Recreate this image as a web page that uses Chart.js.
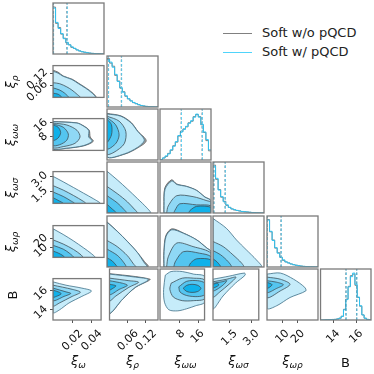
<!DOCTYPE html>
<html><head><meta charset="utf-8">
<script src="https://cdn.jsdelivr.net/npm/chart.js@4.4.1/dist/chart.umd.min.js"></script>
<style>
html,body{margin:0;padding:0;background:#fff;}
body{width:374px;height:374px;overflow:hidden;position:relative;font-family:'DejaVu Sans',sans-serif;}
canvas{position:absolute;}
.lab{position:absolute;font-size:13px;color:#111;white-space:nowrap;transform:translate(-50%,-50%);line-height:1;}
.lab i{font-style:italic;}
.lab sub{font-size:9px;font-style:italic;vertical-align:-3px;}
.ylab{transform:translate(-50%,-50%) rotate(-90deg);}
.leg{position:absolute;font-size:13px;color:#222;white-space:nowrap;line-height:1;}
.legline{position:absolute;height:1px;width:29px;}
</style></head><body>
<script>
// ---------- data ----------
const ranges = [[0,0.05],[0,0.16],[0,18.5],[0.35,3.5],[0,33],[12.9,17.3]];
const tickValues = [[0.02,0.04],[0.06,0.12],[8,16],[1.5,3.0],[10,20],[14,16]];
const tickLabels = [['0.02','0.04'],['0.06','0.12'],['8','16'],['1.5','3.0'],['10','20'],['14','16']];
const symbols = ['ξ','ξ','ξ','ξ','ξ','B'];
const subscripts = ['ω','ρ','ωω','ωσ','ωρ',''];
const seriesNames = ['Soft w/o pQCD','Soft w/ pQCD'];

// 1D marginal histograms (relative heights), "w/o pQCD" and "w/ pQCD"
const hWo0 = [0.92,0.6,0.52,0.39,0.31,0.22,0.18,0.13,0.11,0.08,0.06,0.044,0.034,0.026,0.017,0.012,0.008,0.005,0.003,0.002];
const hW0  = [0.9,0.62,0.5,0.4,0.3,0.23,0.18,0.14,0.11,0.08,0.06,0.045,0.035,0.025,0.018,0.012,0.008,0.005,0.003,0.002];
const hWo1 = [0.95,0.86,0.8,0.62,0.51,0.37,0.3,0.21,0.16,0.12,0.085,0.065,0.045,0.03,0.02,0.012,0.007,0.004,0.002,0.001];
const hW1  = [0.93,0.88,0.78,0.64,0.5,0.38,0.29,0.22,0.16,0.12,0.09,0.065,0.045,0.03,0.02,0.012,0.007,0.004,0.002,0.001];
const hWo2 = [0.01,0.04,0.07,0.13,0.19,0.28,0.35,0.47,0.56,0.61,0.65,0.73,0.76,0.85,0.89,0.85,0.69,0.54,0.38,0.18];
const hW2  = [0.01,0.04,0.08,0.12,0.2,0.27,0.36,0.48,0.55,0.6,0.66,0.72,0.77,0.84,0.9,0.84,0.7,0.55,0.4,0.2];
const hWo3 = [0.94,0.66,0.46,0.31,0.23,0.15,0.11,0.08,0.06,0.05,0.04,0.03,0.024,0.02,0.014,0.01,0.007,0.004,0.002,0.001];
const hW3  = [0.92,0.68,0.45,0.32,0.22,0.16,0.11,0.08,0.065,0.05,0.04,0.03,0.025,0.02,0.015,0.01,0.007,0.004,0.002,0.001];
const hWo4 = [0.93,0.69,0.53,0.37,0.28,0.19,0.13,0.1,0.08,0.06,0.045,0.034,0.025,0.018,0.012,0.008,0.005,0.003,0.002,0.001];
const hW4  = [0.92,0.7,0.52,0.38,0.27,0.19,0.14,0.1,0.08,0.06,0.045,0.035,0.025,0.018,0.012,0.008,0.005,0.003,0.002,0.001];
const hWo5 = [0,0,0.003,0.005,0.008,0.011,0.013,0.022,0.036,0.075,0.21,0.41,0.66,0.87,0.9,0.68,0.44,0.27,0.1,0.035,0.012,0.005];
const hW5  = [0,0,0.003,0.005,0.008,0.01,0.012,0.02,0.035,0.07,0.2,0.4,0.65,0.85,0.92,0.7,0.45,0.28,0.1,0.035,0.012,0.005];

// quantile markers (dashed lines)
const qWo = [[0.0004,0.0137],[0.0048,0.045],[7.7,15.3],[0.4,1.1],[0.3,9.1],[15.12,16.05]];
const qW  = [[0.0006,0.014],[0.005,0.046],[7.8,15.4],[0.41,1.11],[0.33,9.2],[15.14,16.07]];

// 2D credible contours: [w/o outer (or null), w/ level1 (outer) .. level4 (inner)]
const cont10 = [
  [[0,.137],[.005,.127],[.01,.108],[.019,.091],[.0255,.07],[.032,.049],[.039,.022],[.042,0],[0,0]],
  [[0,.131],[.005,.122],[.01,.106],[.0185,.09],[.025,.069],[.0315,.048],[.0385,.021],[.0415,0],[0,0]],
  [[0,.074],[.0065,.069],[.0135,.053],[.0185,.037],[.0235,.016],[.0265,0],[0,0]],
  [[0,.048],[.0065,.037],[.0115,.021],[.015,0],[0,0]],
  [[0,.021],[.005,.016],[.0085,0],[0,0]]];
const cont20 = [
  [[0,16.8],[0.0235,16.0],[0.0305,14.1],[0.0355,11.7],[0.0365,7.8],[0.0395,5.3],[0.0305,2.7],[0.0135,1.2],[0,0.8]],
  [[0,16.7],[0.0235,15.9],[0.03,14.1],[0.035,11.7],[0.035,7.8],[0.0385,5.4],[0.03,2.8],[0.0135,1.3],[0,0.9]],
  [[0,15.9],[0.0135,14.8],[0.0235,11.7],[0.0265,7.8],[0.0215,4.1],[0.01,2.2],[0,1.85]],
  [[0,15.4],[0.01,13.5],[0.015,9.6],[0.0135,5.9],[0.0065,3.3],[0,3.0]],
  [[0,14.8],[0.005,13.5],[0.0075,10.4],[0.005,7.2],[0,5.9]]];
const cont21 = [
  [[0,16.9],[.044,16.0],[.076,13.6],[.097,10.4],[.123,7.0],[.098,4.5],[.055,2.1],[0,1.2]],
  [[0,16.7],[.043,15.9],[.075,13.5],[.096,10.4],[.117,7.2],[.096,4.6],[.054,2.2],[0,1.3]],
  [[0,15.9],[.038,14.1],[.059,10.4],[.054,5.9],[.022,2.8],[0,2.2]],
  [[0,15.4],[.027,12.8],[.038,9.1],[.027,5.9],[0,4.1]],
  [[0,14.8],[.014,12.8],[.014,9.1],[0,6.5]]];
const cont30 = [null,
  [[0,3.03],[.01,2.49],[.02,1.93],[.03,1.36],[.04,.79],[.046,.35],[0,.35]],
  [[0,2.11],[.01,1.67],[.02,1.14],[.03,.54],[.032,.35],[0,.35]],
  [[0,1.48],[.01,1.04],[.0175,.6],[.021,.35],[0,.35]],
  [[0,.92],[.006,.6],[.01,.35],[0,.35]]];
const cont31 = [null,
  [[0,2.93],[.032,2.4],[.064,1.83],[.096,1.23],[.125,.67],[.136,.35],[0,.35]],
  [[0,1.99],[.032,1.55],[.064,1.04],[.088,.54],[.096,.35],[0,.35]],
  [[0,1.42],[.032,.98],[.053,.57],[.061,.35],[0,.35]],
  [[0,.89],[.016,.6],[.029,.35],[0,.35]]];
const cont32 = [
  [[1.4,0.35],[1.4,0.8],[1.75,1.9],[4.2,2.4],[6.1,2.14],[9.6,2.0],[13.3,1.75],[16.3,1.34],[18.5,1.12],[18.5,0.35]],
  [[1.5,0.35],[1.5,0.8],[1.85,1.83],[4.3,2.33],[6.1,2.11],[9.6,1.99],[13.3,1.74],[16.3,1.33],[18.5,1.11],[18.5,0.35]],
  [[2.4,0.35],[3.0,0.79],[6.1,1.42],[12.0,1.36],[17.0,1.11],[18.5,1.01],[18.5,0.35]],
  [[5.0,0.35],[5.4,0.51],[7.2,0.92],[13.3,0.85],[18.5,0.79],[18.5,0.35]],
  [[10.4,0.35],[10.9,0.51],[13.3,0.76],[18.5,0.70],[18.5,0.35]]];
const cont40 = [null,
  [[0,29.7],[.01,23.8],[.02,17.2],[.03,9.9],[.0375,4.0],[.041,0],[0,0]],
  [[0,18.2],[.01,13.9],[.02,8.3],[.0275,2.6],[.029,0],[0,0]],
  [[0,12.5],[.01,8.6],[.0165,4.0],[.02,0],[0,0]],
  [[0,6.6],[.005,4.6],[.01,1.65],[.011,0],[0,0]]];
const cont41 = [
  [[0,29.2],[.032,23.2],[.064,16.6],[.096,9.3],[.118,3.4],[.13,0.6],[.127,0],[0,0]],
  [[0,29],[.032,23.1],[.064,16.5],[.096,9.2],[.115,3.3],[.125,0],[0,0]],
  [[0,17.2],[.032,13.2],[.064,7.3],[.083,2.0],[.09,0],[0,0]],
  [[0,11.6],[.032,7.6],[.051,3.3],[.059,0],[0,0]],
  [[0,5.9],[.016,4.0],[.029,1.0],[.032,0],[0,0]]];
const cont42 = [
  [[1.4,0],[1.4,9.9],[2.1,20.3],[4.3,24.7],[8.5,22.0],[13.3,17.6],[17.0,12.3],[18.5,10.0],[18.5,0]],
  [[1.5,0],[1.5,9.9],[2.2,19.8],[4.3,24.1],[8.5,21.8],[13.3,17.5],[17.0,12.2],[18.5,9.9],[18.5,0]],
  [[2.4,0],[3.0,6.6],[6.1,15.5],[12.0,13.2],[18.5,8.9],[18.5,0]],
  [[5.0,0],[5.5,3.3],[8.5,9.9],[14.4,8.9],[18.5,6.6],[18.5,0]],
  [[10.4,0],[11.1,2.6],[13.3,5.3],[18.5,4.6],[18.5,0]]];
const cont43 = [null,
  [[.35,31.4],[1.17,25.1],[1.8,17.5],[2.4,11.2],[3.03,4.6],[3.34,0],[.35,0]],
  [[.35,16.5],[.98,13.2],[1.58,7.9],[2.11,2.6],[2.24,0],[.35,0]],
  [[.35,10.6],[.82,7.9],[1.3,3.3],[1.48,0],[.35,0]],
  [[.35,5.3],[.6,3.3],[.82,0],[.35,0]]];
const cont50 = [null,
  [[0,16.95],[.0135,16.6],[.03,16.29],[.04,15.98],[.03,15.41],[.0165,14.7],[.0065,13.96],[0,13.69]],
  [[0,16.6],[.02,16.16],[.0285,15.85],[.02,15.41],[.0065,14.7],[0,14.4]],
  [[0,16.29],[.0135,15.89],[.0185,15.72],[.0115,15.41],[0,14.97]],
  [[0,16.07],[.0065,15.85],[.0085,15.67],[.0035,15.41],[0,15.32]]];
const cont51 = [
  [[0,16.9],[.085,16.65],[.134,16.42],[.13,16.3],[.085,15.7],[.043,14.68],[0,13.5]],
  [[0,16.86],[.085,16.6],[.128,16.38],[.085,15.72],[.043,14.7],[0,13.52]],
  [[0,16.51],[.064,16.29],[.096,16.16],[.064,15.72],[.021,14.97],[0,14.57]],
  [[0,16.29],[.043,16.07],[.059,15.89],[.032,15.54],[0,15.1]],
  [[0,15.98],[.021,15.85],[.011,15.63],[0,15.5]]];
const cont52 = [null,
  [[2.2,16.77],[4.6,17.08],[9.25,17.08],[13.9,16.86],[18.5,16.64],[18.5,14.44],[14.8,14.13],[11.1,13.87],[7.4,13.69],[3.7,13.78],[1.85,14.44],[1.5,15.54]],
  [[4.6,16.07],[9.25,16.51],[13.9,16.51],[18.5,16.33],[18.5,14.75],[13.9,14.57],[9.25,14.57],[5.55,14.88],[4.1,15.54]],
  [[7.8,15.76],[11.1,16.24],[15.7,16.29],[18.5,16.07],[18.5,15.1],[15.7,14.92],[11.1,15.01],[8.3,15.32]],
  [[9.6,15.63],[11.1,15.89],[13.3,15.98],[15.7,15.89],[17.0,15.63],[15.7,15.36],[13.3,15.28],[11.1,15.36]]];
const cont53 = [null,
  [[.35,16.42],[1.45,16.68],[2.52,16.95],[2.56,16.77],[1.89,16.07],[1.04,14.97],[.35,13.87]],
  [[.35,16.2],[1.3,16.42],[1.93,16.6],[1.45,15.98],[.82,15.32],[.35,14.88]],
  [[.35,16.07],[.98,16.2],[1.3,16.29],[.98,15.85],[.35,15.41]],
  [[.35,15.98],[.67,16.07],[.73,15.89],[.35,15.67]]];
const cont54 = [null,
  [[0,16.86],[8.6,16.95],[17.2,16.42],[24.4,15.72],[25.1,15.41],[14.9,14.84],[6.3,14.13],[0,13.91]],
  [[0,16.6],[8.6,16.42],[14.9,15.98],[8.6,15.41],[0,14.84]],
  [[0,16.29],[6.3,16.16],[10.6,15.94],[6.3,15.63],[0,15.28]],
  [[0,16.16],[3.3,15.94],[0,15.63]]];

// ---------- assembly ----------
const histWo = [hWo0,hWo1,hWo2,hWo3,hWo4,hWo5];
const histW = [hW0,hW1,hW2,hW3,hW4,hW5];
const contours = {'1-0':cont10,'2-0':cont20,'2-1':cont21,'3-0':cont30,'3-1':cont31,'3-2':cont32,
  '4-0':cont40,'4-1':cont41,'4-2':cont42,'4-3':cont43,'5-0':cont50,'5-1':cont51,'5-2':cont52,'5-3':cont53,'5-4':cont54};

const woColor = '#808080';
const wColor = '#2ec3f2';
const levelFills = ['#c6ecfa','#8fd8f5','#54c5f0','#0fb1ea'];
const edgeColor = '#3d4f58';

const colLeft = [53,107,160,213,267,320];
const rowTop = [3,56,109,162,216,269];
const SIZE = 51;
const XAX = 46, YAX = 46;
const xLabelOffset = [9,9,4,6,5,5];
const yLabelOffset = [0,-3,-2,-3,-2,-2];

const framePlugin = {id:'frame', afterDraw(chart){
  const {ctx, chartArea:a} = chart;
  ctx.save(); ctx.strokeStyle = '#7a7a7a'; ctx.lineWidth = 1.3;
  ctx.strokeRect(a.left, a.top, a.right-a.left, a.bottom-a.top); ctx.restore();
}};

function scaleOpts(p, show, isX) {
  return {
    type:'linear', min: ranges[p][0], max: ranges[p][1], display: show,
    grid:{display: show, drawOnChartArea:false, drawTicks:true, tickLength:3, color:'#555', lineWidth:1},
    border:{display:false},
    ticks:{display: show, autoSkip:false, minRotation:45, maxRotation:45,
      font:{family:'DejaVu Sans', size:11}, color:'#111', padding: 4,
      labelOffset: isX ? xLabelOffset[p] : yLabelOffset[p],
      callback:(v,i)=>tickLabels[p][i]},
    afterBuildTicks: s => { s.ticks = tickValues[p].map(v=>({value:v})); },
    afterFit: s => { if (!show) return; if (isX) s.height = XAX; else s.width = YAX; }
  };
}

function poly(pts, bg, border, order, bw) {
  const d = pts.map(q=>({x:q[0], y:q[1]}));
  d.push({x:pts[0][0], y:pts[0][1]});
  return {data:d, showLine:true, fill:'shape', backgroundColor:bg, borderColor:border,
    borderWidth:bw, pointRadius:0, tension:0.3, order};
}
function histData(p, vals) {
  const lo = ranges[p][0], hi = ranges[p][1], n = vals.length, w = (hi-lo)/n;
  const d = vals.map((v,i)=>({x: lo + i*w, y: v}));
  d.push({x: hi, y: vals[n-1]});
  return d;
}
function vline(x, color, order) {
  return {data:[{x, y:0},{x, y:1}], showLine:true, borderColor:color, borderWidth:1,
    borderDash:[2.5,2], pointRadius:0, fill:false, order};
}

function makePanel(r, c) {
  const showX = r === 5, showY = c === 0 && r > 0;
  const w = SIZE + 2 + (showY ? YAX : 0);
  const h = SIZE + 2 + (showX ? XAX : 0);
  const cv = document.createElement('canvas');
  cv.width = w; cv.height = h;
  cv.style.width = w + 'px'; cv.style.height = h + 'px';
  cv.style.left = (colLeft[c] - 1 - (showY ? YAX : 0)) + 'px';
  cv.style.top = (rowTop[r] - 1) + 'px';
  document.body.appendChild(cv);
  const datasets = [];
  let yScale;
  if (r === c) {
    datasets.push({data: histData(c, histWo[c]), showLine:true, stepped:'before', borderColor:woColor, borderWidth:1, pointRadius:0, fill:false, order:5});
    datasets.push({data: histData(c, histW[c]), showLine:true, stepped:'before', borderColor:wColor, borderWidth:1, pointRadius:0, fill:false, order:4});
    qWo[c].forEach(q => datasets.push(vline(q, '#4a5a66', 3)));
    qW[c].forEach(q => datasets.push(vline(q, '#5fd3f7', 2)));
    yScale = {type:'linear', min:0, max:1, display:false};
  } else {
    const cs = contours[r + '-' + c];
    if (cs[0]) datasets.push(poly(cs[0], '#a3a3a3', '#5a5a5a', 10, 0.8));
    for (let k = 1; k <= 4; k++) {
      datasets.push(poly(cs[k], levelFills[k-1], k === 1 ? '#3d6f86' : edgeColor, 10 - k, 0.8));
    }
    yScale = scaleOpts(r, showY, false);
  }
  new Chart(cv, {
    type:'scatter',
    data:{datasets},
    options:{responsive:false, animation:false, devicePixelRatio:1, events:[],
      layout:{padding:1},
      plugins:{legend:{display:false}, tooltip:{enabled:false}},
      scales:{x: scaleOpts(c, showX, true), y: yScale}},
    plugins:[framePlugin]
  });
}

for (let r = 0; r < 6; r++) for (let c = 0; c <= r; c++) makePanel(r, c);

function labelHTML(i) {
  return subscripts[i] ? '<i>' + symbols[i] + '</i><sub>' + subscripts[i] + '</sub>' : symbols[i];
}
for (let i = 0; i < 6; i++) {
  const d = document.createElement('div');
  d.className = 'lab'; d.innerHTML = labelHTML(i);
  d.style.left = (colLeft[i] + SIZE/2) + 'px'; d.style.top = '362px';
  document.body.appendChild(d);
  if (i > 0) {
    const e = document.createElement('div');
    e.className = 'lab ylab'; e.innerHTML = labelHTML(i);
    e.style.left = '12px'; e.style.top = (rowTop[i] + SIZE/2) + 'px';
    document.body.appendChild(e);
  }
}
// legend
[[woColor, 33], ['#4fd4fb', 52]].forEach((s, i) => {
  const l = document.createElement('div'); l.className = 'legline';
  l.style.background = s[0]; l.style.left = '223px'; l.style.top = s[1] + 'px';
  document.body.appendChild(l);
  const t = document.createElement('div'); t.className = 'leg'; t.textContent = seriesNames[i];
  t.style.left = '262px'; t.style.top = (s[1] - 7) + 'px';
  document.body.appendChild(t);
});
</script>
</body></html>
